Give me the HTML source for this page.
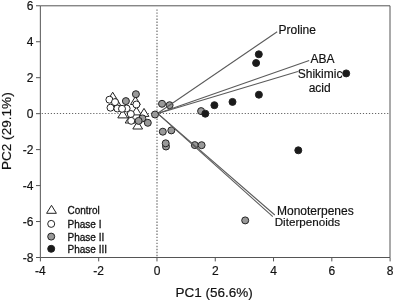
<!DOCTYPE html>
<html><head><meta charset="utf-8"><style>
html,body{margin:0;padding:0;background:#fff;}
svg{display:block;will-change:transform;}
text{font-family:"Liberation Sans",sans-serif;fill:#111;stroke:#111;stroke-width:0.18px;}
.t12{font-size:12px;}
.t13{font-size:13.4px;}
.leg{font-size:10px;fill:#111;stroke:#111;stroke-width:0.3px;}
</style></head><body>
<svg width="394" height="302" viewBox="0 0 394 302">
<path d="M40.35 5.8H390.0V257.5H40.35Z" fill="none" stroke="#555" stroke-width="1"/>
<line x1="41.7" y1="113.5" x2="389.5" y2="113.5" stroke="#666" stroke-width="1.1" stroke-dasharray="1.2 1.83"/>
<line x1="157" y1="9.4" x2="157" y2="257" stroke="#666" stroke-width="1.15" stroke-dasharray="1.4 1.63"/>
<line x1="36" y1="5.78" x2="40.35" y2="5.78" stroke="#555" stroke-width="1"/>
<text x="33.4" y="9.68" text-anchor="end" class="t12">6</text>
<line x1="36" y1="41.74" x2="40.35" y2="41.74" stroke="#555" stroke-width="1"/>
<text x="33.4" y="46.14" text-anchor="end" class="t12">4</text>
<line x1="36" y1="77.70" x2="40.35" y2="77.70" stroke="#555" stroke-width="1"/>
<text x="33.4" y="82.10" text-anchor="end" class="t12">2</text>
<line x1="36" y1="113.66" x2="40.35" y2="113.66" stroke="#555" stroke-width="1"/>
<text x="33.4" y="118.06" text-anchor="end" class="t12">0</text>
<line x1="36" y1="149.62" x2="40.35" y2="149.62" stroke="#555" stroke-width="1"/>
<text x="33.4" y="154.02" text-anchor="end" class="t12">-2</text>
<line x1="36" y1="185.58" x2="40.35" y2="185.58" stroke="#555" stroke-width="1"/>
<text x="33.4" y="189.98" text-anchor="end" class="t12">-4</text>
<line x1="36" y1="221.54" x2="40.35" y2="221.54" stroke="#555" stroke-width="1"/>
<text x="33.4" y="225.94" text-anchor="end" class="t12">-6</text>
<line x1="36" y1="257.50" x2="40.35" y2="257.50" stroke="#555" stroke-width="1"/>
<text x="33.4" y="261.90" text-anchor="end" class="t12">-8</text>
<line x1="40.40" y1="257.5" x2="40.40" y2="261.4" stroke="#555" stroke-width="1"/>
<text x="40.40" y="274.5" text-anchor="middle" class="t12">-4</text>
<line x1="98.69" y1="257.5" x2="98.69" y2="261.4" stroke="#555" stroke-width="1"/>
<text x="98.69" y="274.5" text-anchor="middle" class="t12">-2</text>
<line x1="156.97" y1="257.5" x2="156.97" y2="261.4" stroke="#555" stroke-width="1"/>
<text x="156.97" y="274.5" text-anchor="middle" class="t12">0</text>
<line x1="215.25" y1="257.5" x2="215.25" y2="261.4" stroke="#555" stroke-width="1"/>
<text x="215.25" y="274.5" text-anchor="middle" class="t12">2</text>
<line x1="273.54" y1="257.5" x2="273.54" y2="261.4" stroke="#555" stroke-width="1"/>
<text x="273.54" y="274.5" text-anchor="middle" class="t12">4</text>
<line x1="331.82" y1="257.5" x2="331.82" y2="261.4" stroke="#555" stroke-width="1"/>
<text x="331.82" y="274.5" text-anchor="middle" class="t12">6</text>
<line x1="390.10" y1="257.5" x2="390.10" y2="261.4" stroke="#555" stroke-width="1"/>
<text x="390.10" y="274.5" text-anchor="middle" class="t12">8</text>
<text x="214.1" y="297.1" text-anchor="middle" class="t13" style="font-size:13.5px">PC1 (56.6%)</text>
<text transform="translate(11.1,131.2) rotate(-90)" text-anchor="middle" class="t13" style="font-size:13.6px">PC2 (29.1%)</text>
<path d="M112.70 92.20L117.60 100.20L107.80 100.20Z" fill="#fff" stroke="#222" stroke-width="1" stroke-linejoin="miter"/>
<path d="M116.20 97.90L121.10 105.90L111.30 105.90Z" fill="#fff" stroke="#222" stroke-width="1" stroke-linejoin="miter"/>
<path d="M135.40 96.50L140.30 104.50L130.50 104.50Z" fill="#fff" stroke="#222" stroke-width="1" stroke-linejoin="miter"/>
<path d="M122.70 109.90L127.60 117.90L117.80 117.90Z" fill="#fff" stroke="#222" stroke-width="1" stroke-linejoin="miter"/>
<path d="M136.40 106.90L141.30 114.90L131.50 114.90Z" fill="#fff" stroke="#222" stroke-width="1" stroke-linejoin="miter"/>
<path d="M144.00 108.40L148.90 116.40L139.10 116.40Z" fill="#fff" stroke="#222" stroke-width="1" stroke-linejoin="miter"/>
<path d="M137.70 121.00L142.60 129.00L132.80 129.00Z" fill="#fff" stroke="#222" stroke-width="1" stroke-linejoin="miter"/>
<path d="M130.10 115.00L135.00 123.00L125.20 123.00Z" fill="#fff" stroke="#222" stroke-width="1" stroke-linejoin="miter"/>
<circle cx="109.39999999999999" cy="99.7" r="3.5" fill="#fff" stroke="#222" stroke-width="1"/>
<circle cx="110.5" cy="107.7" r="3.5" fill="#fff" stroke="#222" stroke-width="1"/>
<circle cx="115.0" cy="102.1" r="3.5" fill="#fff" stroke="#222" stroke-width="1"/>
<circle cx="117.39999999999999" cy="108.5" r="3.5" fill="#fff" stroke="#222" stroke-width="1"/>
<circle cx="126.6" cy="108.5" r="3.5" fill="#fff" stroke="#222" stroke-width="1"/>
<circle cx="122.0" cy="108.8" r="3.5" fill="#fff" stroke="#222" stroke-width="1"/>
<circle cx="136.4" cy="104.5" r="3.5" fill="#fff" stroke="#222" stroke-width="1"/>
<circle cx="130.79999999999998" cy="114.0" r="3.5" fill="#fff" stroke="#222" stroke-width="1"/>
<circle cx="131.2" cy="120.8" r="3.5" fill="#fff" stroke="#222" stroke-width="1"/>
<circle cx="125.89999999999999" cy="101.1" r="3.5" fill="#999" stroke="#222" stroke-width="1"/>
<circle cx="135.9" cy="94.2" r="3.5" fill="#999" stroke="#222" stroke-width="1"/>
<circle cx="142.4" cy="118.4" r="3.5" fill="#999" stroke="#222" stroke-width="1"/>
<circle cx="147.79999999999998" cy="122.8" r="3.5" fill="#999" stroke="#222" stroke-width="1"/>
<circle cx="138.6" cy="120.9" r="3.5" fill="#999" stroke="#222" stroke-width="1"/>
<circle cx="162.0" cy="103.8" r="3.5" fill="#999" stroke="#222" stroke-width="1"/>
<circle cx="169.6" cy="105.2" r="3.5" fill="#999" stroke="#222" stroke-width="1"/>
<circle cx="162.79999999999998" cy="131.7" r="3.5" fill="#999" stroke="#222" stroke-width="1"/>
<circle cx="171.29999999999998" cy="130.39999999999998" r="3.5" fill="#999" stroke="#222" stroke-width="1"/>
<circle cx="166.0" cy="146.5" r="3.5" fill="#999" stroke="#222" stroke-width="1"/>
<circle cx="165.7" cy="143.29999999999998" r="3.5" fill="#999" stroke="#222" stroke-width="1"/>
<circle cx="194.79999999999998" cy="145.1" r="3.5" fill="#999" stroke="#222" stroke-width="1"/>
<circle cx="201.6" cy="145.2" r="3.5" fill="#999" stroke="#222" stroke-width="1"/>
<circle cx="201.1" cy="111.10000000000001" r="3.5" fill="#999" stroke="#222" stroke-width="1"/>
<circle cx="245.2" cy="220.39999999999998" r="3.5" fill="#999" stroke="#222" stroke-width="1"/>
<circle cx="258.8" cy="54.300000000000004" r="3.5" fill="#1a1a1a" stroke="#222" stroke-width="1"/>
<circle cx="256.1" cy="63.0" r="3.5" fill="#1a1a1a" stroke="#222" stroke-width="1"/>
<circle cx="258.90000000000003" cy="94.7" r="3.5" fill="#1a1a1a" stroke="#222" stroke-width="1"/>
<circle cx="232.5" cy="101.9" r="3.5" fill="#1a1a1a" stroke="#222" stroke-width="1"/>
<circle cx="214.4" cy="105.2" r="3.5" fill="#1a1a1a" stroke="#222" stroke-width="1"/>
<circle cx="205.29999999999998" cy="113.7" r="3.5" fill="#1a1a1a" stroke="#222" stroke-width="1"/>
<circle cx="346.20000000000005" cy="73.4" r="3.5" fill="#1a1a1a" stroke="#222" stroke-width="1"/>
<circle cx="298.3" cy="150.29999999999998" r="3.5" fill="#1a1a1a" stroke="#222" stroke-width="1"/>
<line x1="157.0" y1="113.7" x2="277.2" y2="31.7" stroke="#5a5a5a" stroke-width="1.05"/>
<line x1="157.0" y1="113.7" x2="309.2" y2="60.4" stroke="#5a5a5a" stroke-width="1.05"/>
<line x1="157.0" y1="113.7" x2="297.9" y2="71.5" stroke="#5a5a5a" stroke-width="1.05"/>
<line x1="157.0" y1="112.9" x2="274.8" y2="215.0" stroke="#5a5a5a" stroke-width="1.05"/>
<line x1="157.0" y1="112.9" x2="272.8" y2="216.7" stroke="#5a5a5a" stroke-width="1.05"/>
<circle cx="155.0" cy="114.5" r="3.5" fill="#999" stroke="#222" stroke-width="1"/>
<text x="278.6" y="33.6" class="t12">Proline</text>
<text x="310.5" y="63" class="t12">ABA</text>
<text x="320.1" y="78.2" text-anchor="middle" class="t12">Shikimic</text>
<text x="319.7" y="91.8" text-anchor="middle" class="t12">acid</text>
<text x="277" y="214.7" class="t12">Monoterpenes</text>
<text x="274.7" y="226.2" class="t12" style="font-size:11.65px">Diterpenoids</text>
<path d="M51.50 205.30L56.40 213.30L46.60 213.30Z" fill="#fff" stroke="#222" stroke-width="1" stroke-linejoin="miter"/>
<circle cx="51.2" cy="223.9" r="3.5" fill="#fff" stroke="#222" stroke-width="1"/>
<circle cx="51.2" cy="236.6" r="3.5" fill="#999" stroke="#222" stroke-width="1"/>
<circle cx="51.2" cy="248.8" r="3.5" fill="#1a1a1a" stroke="#222" stroke-width="1"/>
<text x="67.5" y="214.4" class="leg">Control</text>
<text x="67.5" y="227.9" class="leg">Phase I</text>
<text x="67.5" y="240.6" class="leg">Phase II</text>
<text x="67.5" y="252.9" class="leg">Phase III</text>
</svg>
</body></html>
